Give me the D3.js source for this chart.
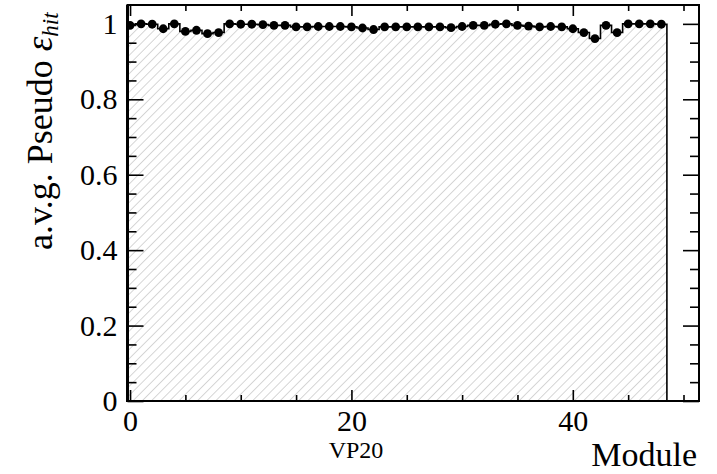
<!DOCTYPE html>
<html>
<head>
<meta charset="utf-8">
<script src="https://cdn.jsdelivr.net/npm/d3@7"></script>
<style>
  html, body { margin: 0; padding: 0; background: #fff; }
  svg { display: block; font-family: "Liberation Serif", "Times New Roman", serif; }
</style>
</head>
<body>
<svg id="chart" width="717" height="474"></svg>
<script>
// Module numbers of the histogram bins (modules 49-51 are empty)
const modules = d3.range(0, 52);
// Average pseudo hit efficiency per module (0..48)
const efficiency = [
  0.996, 1.000, 0.999, 0.987, 1.000, 0.980, 0.983, 0.974, 0.977, 1.000,
  0.999, 0.999, 0.998, 0.996, 0.996, 0.992, 0.992, 0.993, 0.993, 0.993,
  0.992, 0.989, 0.985, 0.992, 0.992, 0.992, 0.992, 0.992, 0.992, 0.990,
  0.993, 0.996, 0.996, 0.999, 1.000, 0.996, 0.994, 0.992, 0.993, 0.992,
  0.987, 0.977, 0.961, 0.996, 0.977, 1.000, 1.000, 1.000, 0.999
];
const xMajorTicks = [0, 20, 40];
const xMinorTicks = [5, 10, 15, 25, 30, 35, 45, 50];
const yMajorTicks = [0, 0.2, 0.4, 0.6, 0.8, 1];
const yMinorTicks = [0.05, 0.1, 0.15, 0.25, 0.3, 0.35, 0.45, 0.5, 0.55,
                     0.65, 0.7, 0.75, 0.85, 0.9, 0.95];
const yTickLabels = ["0", "0.2", "0.4", "0.6", "0.8", "1"];
const xTickLabels = ["0", "20", "40"];

const bins = modules.map(m => ({ module: m, value: m < efficiency.length ? efficiency[m] : 0 }));

const svg = d3.select("#chart");
const frame = { left: 127.5, right: 699, top: 5, bottom: 401 };

const x = d3.scaleLinear().domain([-0.23, 51.4]).range([frame.left, frame.right]);
const y = d3.scaleLinear().domain([0, 1.05]).range([frame.bottom, frame.top]);

const defs = svg.append("defs");
defs.append("clipPath").attr("id", "plotClip")
  .append("rect").attr("x", frame.left).attr("y", frame.top)
  .attr("width", frame.right - frame.left).attr("height", frame.bottom - frame.top);

const hatch = defs.append("pattern")
  .attr("id", "hatch").attr("patternUnits", "userSpaceOnUse")
  .attr("width", 6.5).attr("height", 6.5)
  .attr("patternTransform", "rotate(45)");
hatch.append("line")
  .attr("x1", 0).attr("y1", 0).attr("x2", 0).attr("y2", 6.5)
  .attr("stroke", "#b4b4b4").attr("stroke-width", 1.1);

const plot = svg.append("g").attr("clip-path", "url(#plotClip)");

// Hatched histogram body
const filled = bins.filter(b => b.value > 0);
const area = d3.area()
  .x(d => x(d[0])).y0(y(0)).y1(d => y(d[1]))
  .curve(d3.curveStepAfter);
const areaPts = [];
filled.forEach(b => areaPts.push([b.module - 0.5, b.value]));
areaPts.push([filled[filled.length - 1].module + 0.5, filled[filled.length - 1].value]);
plot.append("path").datum(areaPts)
  .attr("d", area).attr("fill", "url(#hatch)");

// Histogram outline
const stepPts = [];
bins.forEach(b => stepPts.push([b.module - 0.5, b.value]));
stepPts.push([bins[bins.length - 1].module + 0.5, 0]);
plot.append("path").datum(stepPts)
  .attr("d", d3.line().x(d => x(d[0])).y(d => y(d[1])).curve(d3.curveStepAfter))
  .attr("fill", "none").attr("stroke", "#000").attr("stroke-width", 1.6);

// Markers
plot.append("g").selectAll("circle").data(filled).join("circle")
  .attr("cx", d => x(d.module)).attr("cy", d => y(d.value))
  .attr("r", 4.4).attr("fill", "#000");

// Axes with inward ticks
function styleAxis(g) {
  g.select(".domain").remove();
  g.selectAll(".tick line").attr("stroke", "#000").attr("stroke-width", 1.6);
  g.selectAll("text").attr("fill", "#000").attr("font-size", 30)
    .attr("font-family", "Liberation Serif, serif");
}

svg.append("g").attr("transform", `translate(${frame.left},0)`)
  .call(d3.axisLeft(y).tickValues(yMajorTicks).tickSize(-16).tickPadding(10)
    .tickFormat((d, i) => yTickLabels[i]))
  .call(styleAxis);
svg.append("g").attr("transform", `translate(${frame.left},0)`)
  .call(d3.axisLeft(y).tickValues(yMinorTicks).tickSize(-9).tickFormat(""))
  .call(styleAxis);
svg.append("g").attr("transform", `translate(${frame.right},0)`)
  .call(d3.axisRight(y).tickValues(yMajorTicks).tickSize(-16).tickFormat(""))
  .call(styleAxis);
svg.append("g").attr("transform", `translate(${frame.right},0)`)
  .call(d3.axisRight(y).tickValues(yMinorTicks).tickSize(-9).tickFormat(""))
  .call(styleAxis);

svg.append("g").attr("transform", `translate(0,${frame.bottom})`)
  .call(d3.axisBottom(x).tickValues(xMajorTicks).tickSize(-11).tickPadding(9)
    .tickFormat((d, i) => xTickLabels[i]))
  .call(styleAxis);
svg.append("g").attr("transform", `translate(0,${frame.bottom})`)
  .call(d3.axisBottom(x).tickValues(xMinorTicks).tickSize(-6).tickFormat(""))
  .call(styleAxis);
svg.append("g").attr("transform", `translate(0,${frame.top})`)
  .call(d3.axisTop(x).tickValues(xMajorTicks).tickSize(-11).tickFormat(""))
  .call(styleAxis);
svg.append("g").attr("transform", `translate(0,${frame.top})`)
  .call(d3.axisTop(x).tickValues(xMinorTicks).tickSize(-6).tickFormat(""))
  .call(styleAxis);

// Frame
svg.append("rect").attr("x", frame.left).attr("y", frame.top)
  .attr("width", frame.right - frame.left).attr("height", frame.bottom - frame.top)
  .attr("fill", "none").attr("stroke", "#000").attr("stroke-width", 2);
svg.append("line").attr("x1", frame.left).attr("x2", frame.left)
  .attr("y1", frame.top).attr("y2", frame.bottom + 1)
  .attr("stroke", "#000").attr("stroke-width", 3);

// Axis titles
svg.append("text").attr("x", 697).attr("y", 466)
  .attr("text-anchor", "end").attr("font-size", 34).text("Module");

svg.append("text").attr("x", 356).attr("y", 458)
  .attr("text-anchor", "middle").attr("font-size", 24).text("VP20");

const yTitle = svg.append("text")
  .attr("transform", "translate(52,250) rotate(-90)")
  .attr("font-size", 36);
yTitle.append("tspan").text("a.v.g. Pseudo ");
yTitle.append("tspan").attr("font-style", "italic").attr("font-size", 37).text("ε");
yTitle.append("tspan").attr("font-style", "italic").attr("font-size", 23)
  .attr("dy", 6).text("hit");
</script>
</body>
</html>
